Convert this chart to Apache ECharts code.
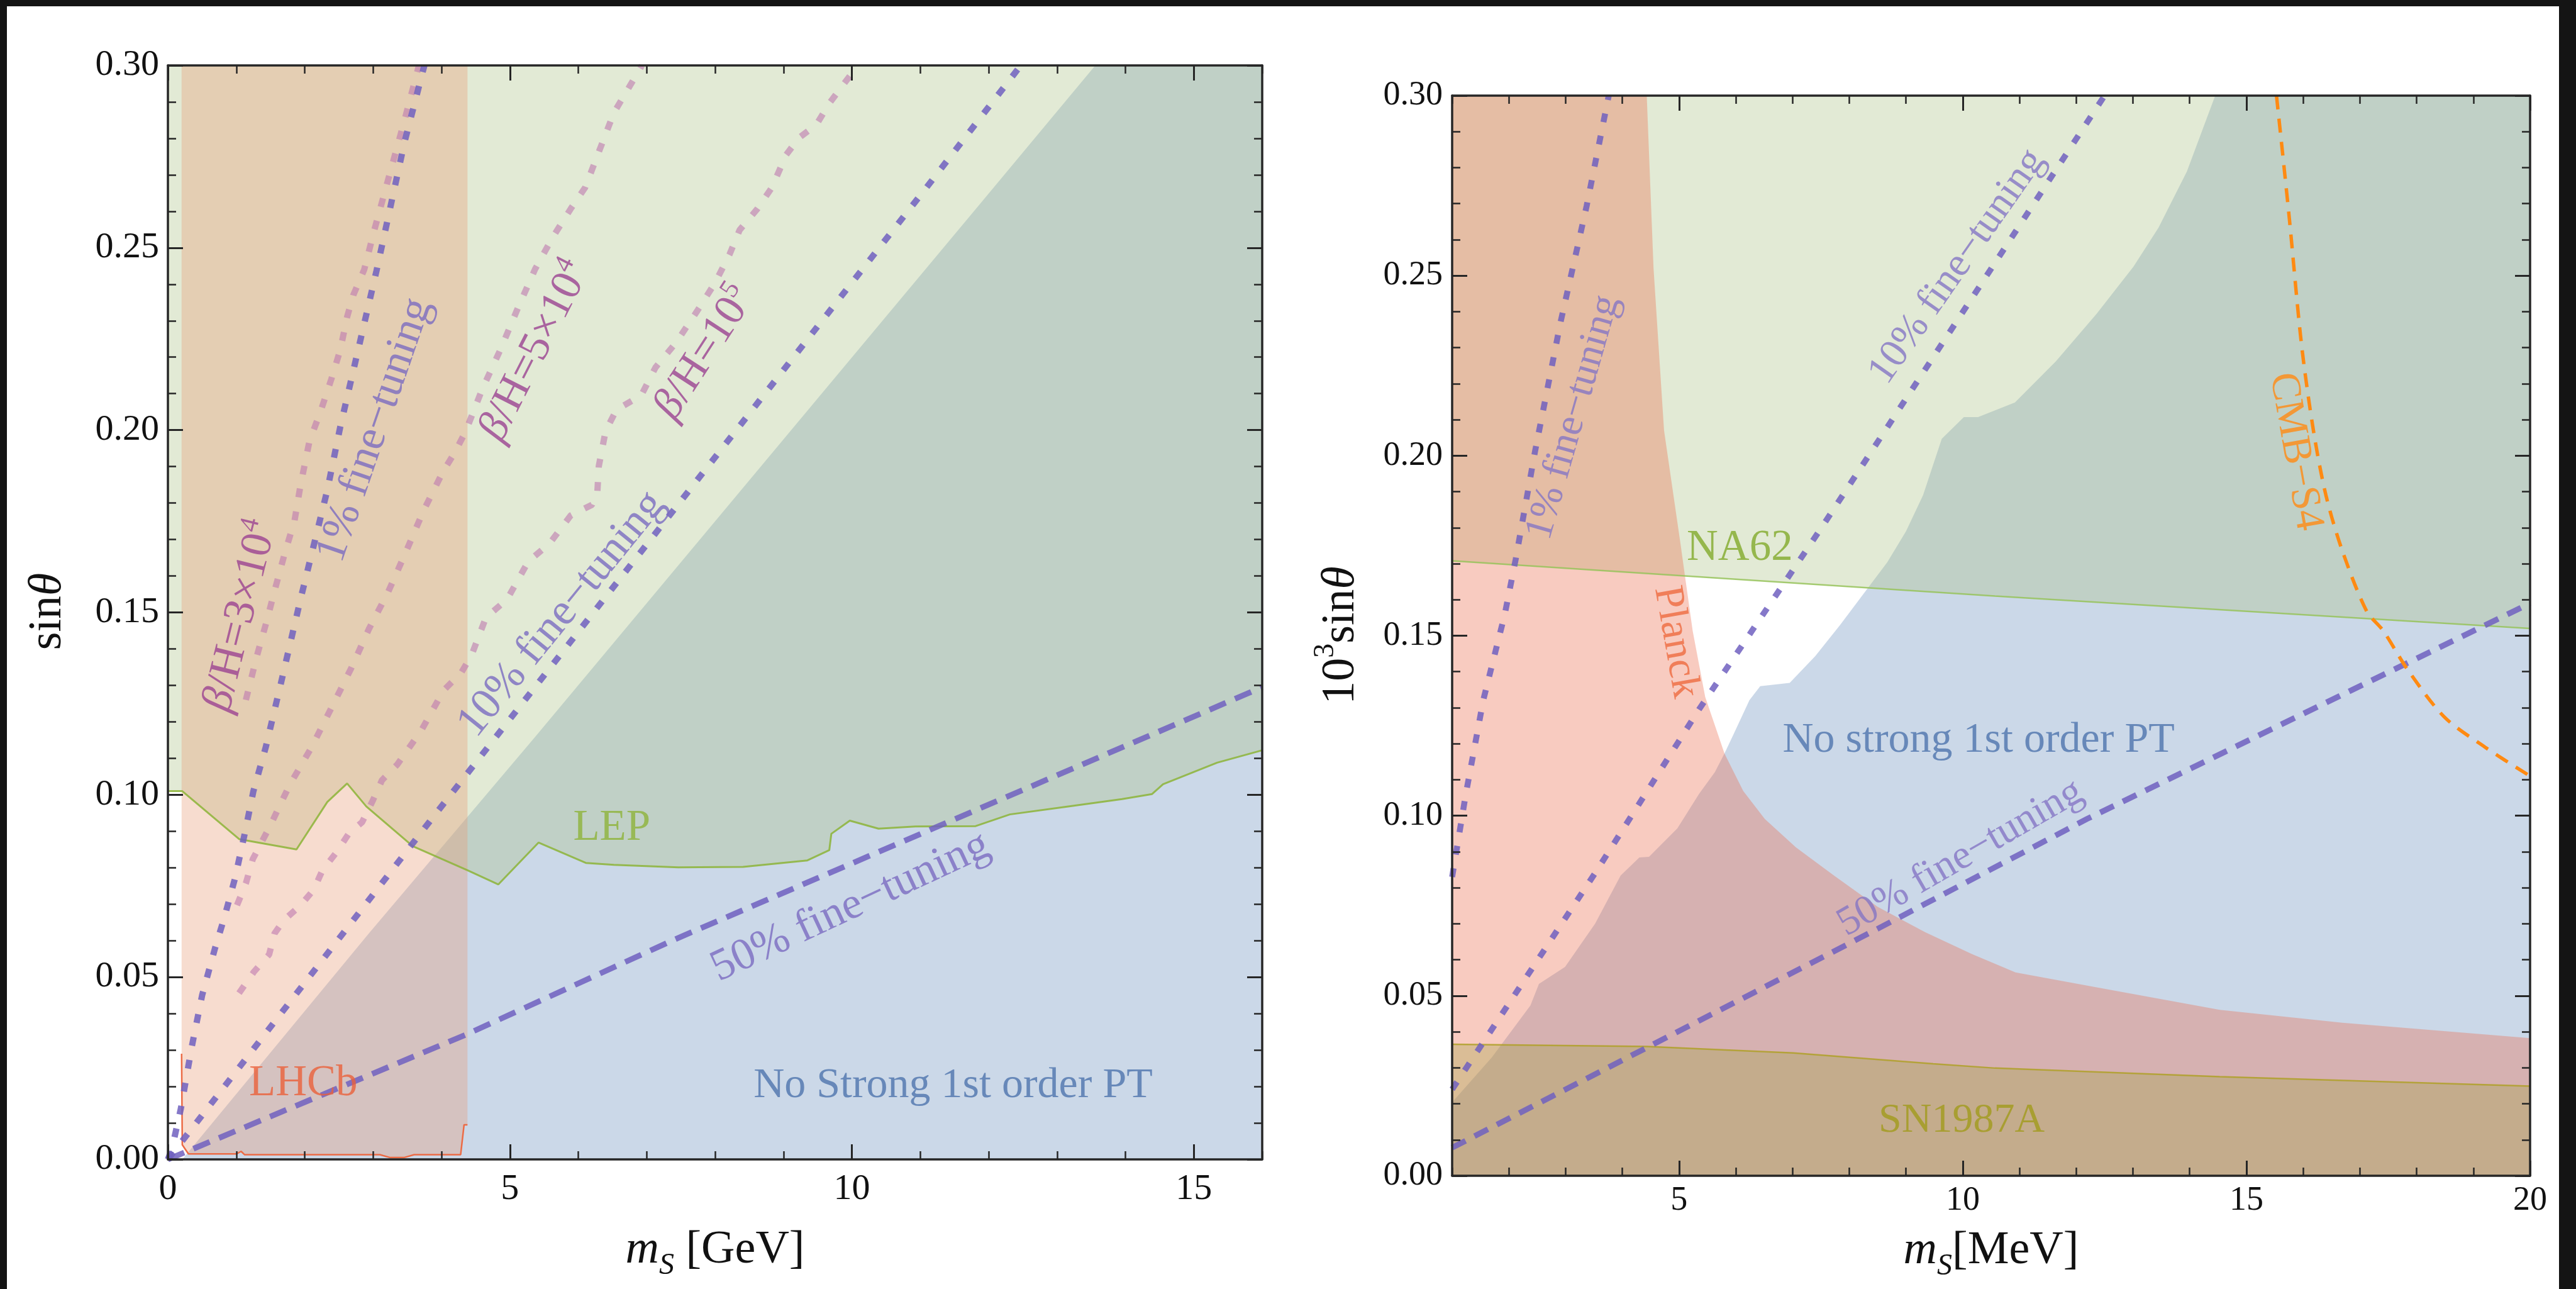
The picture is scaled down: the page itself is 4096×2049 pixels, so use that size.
<!DOCTYPE html>
<html>
<head>
<meta charset="utf-8">
<script src="https://cdn.jsdelivr.net/npm/echarts@6/dist/echarts.min.js"></script>
<style>
  html, body { margin: 0; padding: 0; background: #ffffff; }
  #chart { width: 4096px; height: 2049px; }
</style>
</head>
<body>
<div id="chart"></div>
<script>
// ===================== data: left panel (m_S in GeV, sin theta) =====================
const gevTicks = [0, 5, 10, 15];
const sinTicks = [0, 0.05, 0.10, 0.15, 0.20, 0.25, 0.30];

// LEP exclusion boundary (excluded above)
const lepBound = [[0, 0.101], [0.21, 0.101], [1.045, 0.0878], [1.88, 0.085], [2.33, 0.098], [2.62, 0.1031],
  [2.90, 0.0968], [3.58, 0.0859], [4.38, 0.0793], [4.83, 0.0754], [5.42, 0.0869], [6.11, 0.0813],
  [6.52, 0.0808], [7.46, 0.0801], [8.41, 0.0802], [9.35, 0.0820], [9.67, 0.0848], [9.70, 0.0893],
  [9.97, 0.0929], [10.39, 0.0907], [10.93, 0.0913], [11.81, 0.0914], [12.31, 0.0946], [13.13, 0.0967],
  [13.95, 0.0988], [14.39, 0.1002], [14.55, 0.1029], [15.34, 0.1088], [16, 0.1122]];

// LHCb exclusion boundary (excluded above, between 0.2 and 4.38 GeV)
const lhcbBound = [[0.2, 0.029], [0.21, 0.004], [0.3, 0.0015], [1.0, 0.0015], [1.07, 0.0022], [1.12, 0.0013],
  [3.1, 0.0013], [3.25, 0.0005], [3.45, 0.0005], [3.6, 0.0013], [4.28, 0.0013], [4.33, 0.0095], [4.38, 0.0095]];

// boundary of the region without a strong first-order transition (below / right)
const ptBoundGev = [[0.21, 0], [2.94, 0.062], [5.37, 0.1159], [11.9, 0.2626], [13.56, 0.30]];

// fine-tuning contours
const ft1Gev = [[0, 0], [0.06, 0.003], [0.19, 0.014], [0.35, 0.031], [0.50, 0.045], [0.69, 0.058], [0.82, 0.066],
  [0.98, 0.077], [1.125, 0.0895], [1.25, 0.101], [1.43, 0.113], [1.65, 0.1304], [1.95, 0.1545], [2.33, 0.1835],
  [2.52, 0.2009], [3.05, 0.2437], [3.46, 0.279], [3.75, 0.30]];
const ft10Gev = [[0, 0], [3.87, 0.0937], [11.09, 0.2665], [12.47, 0.30]];
const ft50Gev = [[0, 0], [4.38, 0.0344], [7.42, 0.0604], [16, 0.1295]];

// beta/H contours
const bh3e4 = [[1.14, 0.126], [1.30, 0.138], [1.45, 0.148], [1.56, 0.156], [1.72, 0.167], [1.85, 0.175],
  [1.94, 0.185], [2.07, 0.197], [2.23, 0.205], [2.39, 0.214], [2.52, 0.222], [2.62, 0.231], [2.71, 0.237],
  [2.87, 0.244], [3.02, 0.255], [3.21, 0.268], [3.46, 0.285], [3.67, 0.30]];
const bh5e4 = [[1.01, 0.0697], [1.14, 0.0757], [1.24, 0.0823], [1.49, 0.0913], [1.78, 0.1027], [2.10, 0.113],
  [2.39, 0.1238], [2.68, 0.1347], [2.94, 0.1455], [3.22, 0.1556], [3.48, 0.1666], [3.74, 0.178], [4.03, 0.1889],
  [4.19, 0.1937], [4.35, 0.1995], [4.60, 0.2114], [4.86, 0.222], [5.12, 0.2336], [5.37, 0.2442], [5.63, 0.253],
  [5.89, 0.2607], [6.10, 0.2665], [6.52, 0.287], [6.90, 0.299], [6.93, 0.30]];
const bh1e5 = [[1.04, 0.0456], [1.26, 0.0515], [1.48, 0.0562], [1.56, 0.062], [1.69, 0.0655], [1.94, 0.0697],
  [2.13, 0.0739], [2.26, 0.0793], [2.46, 0.0841], [2.65, 0.0895], [2.84, 0.0925], [3.0, 0.0986], [3.13, 0.104],
  [3.35, 0.1082], [3.71, 0.1178], [4.03, 0.1286], [4.29, 0.1335], [4.44, 0.1383], [4.65, 0.1486], [4.96, 0.1536],
  [5.27, 0.164], [5.58, 0.1689], [5.89, 0.1766], [6.20, 0.1795], [6.28, 0.1833], [6.30, 0.1901], [6.40, 0.1998],
  [6.56, 0.2056], [6.92, 0.2095], [7.13, 0.2172], [7.43, 0.2240], [7.74, 0.2327], [8.0, 0.2404], [8.21, 0.2481],
  [8.36, 0.2549], [8.62, 0.2607], [8.83, 0.2665], [9.04, 0.2755], [9.23, 0.2802], [9.48, 0.2837], [9.67, 0.2896],
  [10.05, 0.2991]];

// ===================== data: right panel (m_S in MeV, 10^3 sin theta) =====================
const mevTicks = [5, 10, 15, 20];

const planckBound = [[4.43, 0.30], [4.55, 0.252], [4.735, 0.207], [5.03, 0.175], [5.10, 0.167], [5.24, 0.1513],
  [5.46, 0.133], [5.80, 0.1173], [6.13, 0.1069], [6.51, 0.0991], [7.06, 0.0912], [7.73, 0.0834], [8.50, 0.0747],
  [9.33, 0.0677], [10.16, 0.0616], [10.93, 0.0565], [12.3, 0.0525], [14.53, 0.0461], [16.69, 0.0425], [20, 0.0382]];
const na62Bound = [[1, 0.1708], [10.57, 0.161], [20, 0.152]];
const sn1987aBound = [[1, 0.0365], [4.43, 0.0359], [7.01, 0.0341], [9.48, 0.0311], [10.57, 0.0299],
  [14.53, 0.0275], [20, 0.0249]];
const ptBoundMev = [[1, 0.0204], [1.70, 0.0329], [2.38, 0.0473], [2.53, 0.0533], [2.99, 0.058], [3.52, 0.070],
  [3.97, 0.0834], [4.30, 0.0884], [4.47, 0.0886], [4.97, 0.0965], [5.35, 0.106], [5.63, 0.1121], [5.80, 0.1173],
  [5.96, 0.1226], [6.24, 0.1321], [6.43, 0.136], [6.95, 0.1369], [7.40, 0.1443], [7.84, 0.153], [8.34, 0.1635],
  [8.67, 0.1704], [9.0, 0.179], [9.3, 0.189], [9.63, 0.2047], [10.02, 0.2107], [10.27, 0.2107], [10.92, 0.2148],
  [11.64, 0.2262], [12.36, 0.2394], [13.01, 0.2525], [13.45, 0.2633], [13.95, 0.2789], [14.45, 0.30]];

const ft1Mev = [[1, 0.083], [1.24, 0.1059], [1.55, 0.1322], [1.93, 0.1561], [2.12, 0.1712], [2.46, 0.2011],
  [2.91, 0.237], [3.37, 0.2693], [3.76, 0.30]];
const ft10Mev = [[1, 0.024], [3.53, 0.0843], [5.35, 0.1295], [7.51, 0.18], [12.5, 0.30]];
const ft50Mev = [[1, 0.0078], [5.63, 0.0453], [8.50, 0.0686], [12.19, 0.0991], [20, 0.159]];
const cmbS4 = [[15.53, 0.30], [15.75, 0.2669], [15.97, 0.231], [16.18, 0.2071], [16.40, 0.1891], [16.69, 0.1736],
  [17.12, 0.1568], [17.41, 0.1514], [17.84, 0.1406], [18.49, 0.1274], [19.21, 0.119], [20, 0.111]];

// ===================== styling =====================
const FONT = 'Liberation Serif';
const AXIS_COLOR = '#262626';
const C_BLUE = 'rgba(106,144,189,0.35)';
const C_GREEN = 'rgba(172,195,135,0.35)';
const C_LHCB = 'rgba(233,155,118,0.35)';
const C_PLANCK = 'rgba(235,106,75,0.35)';
const C_SN = 'rgba(163,164,71,0.35)';
const C_FT = 'rgba(112,96,192,0.85)';
const C_BH = 'rgba(190,120,175,0.6)';
const TITLE_SIZE = 74;

function xAxesFor(grid, min, max, major, labelSize, labelMargin, name, nameGap, rich) {
  const line = { show: true, onZero: false, lineStyle: { color: AXIS_COLOR, width: 3.5 } };
  const noLine = { show: false, onZero: false };
  const base = { gridIndex: grid, type: 'value', min: min, max: max, splitLine: { show: false }, z: 15 };
  const majorTick = { show: true, inside: true, length: 24, customValues: major, lineStyle: { color: AXIS_COLOR, width: 3 } };
  const minorTick = { show: true, inside: true, length: 13, lineStyle: { color: AXIS_COLOR, width: 2.5 } };
  return [
    Object.assign({}, base, {
      position: 'bottom', axisLine: line, axisTick: majorTick,
      axisLabel: { customValues: major, fontFamily: FONT, fontSize: labelSize, color: '#111', margin: labelMargin },
      name: name, nameLocation: 'middle', nameGap: nameGap,
      nameTextStyle: { fontFamily: FONT, fontSize: TITLE_SIZE, color: '#111', lineHeight: 100, rich: rich }
    }),
    Object.assign({}, base, { position: 'bottom', interval: 1, axisLine: noLine, axisTick: minorTick, axisLabel: { show: false } }),
    Object.assign({}, base, { position: 'top', axisLine: line, axisTick: majorTick, axisLabel: { show: false } }),
    Object.assign({}, base, { position: 'top', interval: 1, axisLine: noLine, axisTick: minorTick, axisLabel: { show: false } })
  ];
}

function yAxesFor(grid, labelSize, labelMargin) {
  const line = { show: true, onZero: false, lineStyle: { color: AXIS_COLOR, width: 3.5 } };
  const noLine = { show: false, onZero: false };
  const base = { gridIndex: grid, type: 'value', min: 0, max: 0.30, splitLine: { show: false }, z: 15 };
  const majorTick = { show: true, inside: true, length: 24, customValues: sinTicks, lineStyle: { color: AXIS_COLOR, width: 3 } };
  const minorTick = { show: true, inside: true, length: 13, lineStyle: { color: AXIS_COLOR, width: 2.5 } };
  return [
    Object.assign({}, base, {
      position: 'left', axisLine: line, axisTick: majorTick,
      axisLabel: { customValues: sinTicks, fontFamily: FONT, fontSize: labelSize, color: '#111', margin: labelMargin,
        formatter: v => Number(v).toFixed(2) }
    }),
    Object.assign({}, base, { position: 'left', interval: 0.01, axisLine: noLine, axisTick: minorTick, axisLabel: { show: false } }),
    Object.assign({}, base, { position: 'right', axisLine: line, axisTick: majorTick, axisLabel: { show: false } }),
    Object.assign({}, base, { position: 'right', interval: 0.01, axisLine: noLine, axisTick: minorTick, axisLabel: { show: false } })
  ];
}

// filled exclusion region drawn as one polygon in data coordinates
function region(grid, pts, fill, z) {
  return {
    type: 'custom', xAxisIndex: grid * 4, yAxisIndex: grid * 4, data: pts, z: z, silent: true, clip: true,
    renderItem: function (params, api) {
      if (params.dataIndex !== 0) return null;
      return { type: 'polygon', shape: { points: pts.map(p => api.coord(p)) }, style: { fill: fill } };
    }
  };
}

function curve(grid, pts, color, width, dash, z, smooth) {
  return {
    type: 'line', xAxisIndex: grid * 4, yAxisIndex: grid * 4, data: pts, symbol: 'none', silent: true,
    smooth: smooth || false, z: z, clip: true,
    lineStyle: { color: color, width: width, type: dash || 'solid', cap: 'butt' }
  };
}

const richBase = (color, size) => ({
  it: { fontFamily: FONT, fontStyle: 'italic', fontSize: size, color: color, lineHeight: size * 1.2 },
  sup: { fontFamily: FONT, fontSize: Math.round(size * 0.62), color: color, lineHeight: Math.round(size * 0.62), verticalAlign: 'top' }
});

function note(grid, x, y, text, color, size, rotate) {
  return {
    type: 'scatter', xAxisIndex: grid * 4, yAxisIndex: grid * 4, data: [[x, y]], symbol: 'circle', symbolSize: 1,
    itemStyle: { color: 'rgba(0,0,0,0)' }, silent: true, z: 20,
    label: { show: true, position: 'inside', formatter: text, color: color, fontFamily: FONT, fontSize: size,
      lineHeight: size * 1.2, rotate: rotate || 0, rich: richBase(color, size) }
  };
}

// axis-title fragments: roman, italic, subscript, superscript
const titleRich = {
  roman: { fontFamily: FONT, fontSize: TITLE_SIZE, color: '#111', lineHeight: 96 },
  ital: { fontFamily: FONT, fontStyle: 'italic', fontSize: TITLE_SIZE, color: '#111', lineHeight: 96 },
  subs: { fontFamily: FONT, fontStyle: 'italic', fontSize: 48, color: '#111', lineHeight: 44, verticalAlign: 'bottom' },
  supr: { fontFamily: FONT, fontSize: 46, color: '#111', lineHeight: 46, verticalAlign: 'top' }
};

// vertical axis titles, reading bottom to top
function yTitle(cx, cy, text) {
  return {
    type: 'text', x: cx, y: cy, rotation: Math.PI / 2, z: 50,
    style: { text: text, rich: titleRich, fontFamily: FONT, fontSize: TITLE_SIZE, fill: '#111',
      align: 'center', verticalAlign: 'middle' }
  };
}

const C_FT_TXT = '#7b6cc0';
const C_BH_TXT = '#9b4291';

const option = {
  animation: false,
  backgroundColor: '#ffffff',
  grid: [
    { left: 267, top: 104, width: 1740, height: 1739 },
    { left: 2309, top: 152, width: 1714, height: 1717 }
  ],
  xAxis: [].concat(
    xAxesFor(0, 0, 16, gevTicks, 58, 19, '{ital|m}{subs|S}{roman| [GeV]}', 97, titleRich),
    xAxesFor(1, 1, 20, mevTicks, 54, 13, '{ital|m}{subs|S}{roman|[MeV]}', 70, titleRich)
  ),
  yAxis: [].concat(yAxesFor(0, 58, 14), yAxesFor(1, 54, 15)),
  graphic: [
    yTitle(77, 972, '{roman|sin}{ital|θ}'),
    yTitle(2133, 1010, '{roman|10}{supr|3}{roman|sin}{ital|θ}'),
    { type: 'rect', shape: { x: 0, y: 0, width: 4096, height: 10 }, style: { fill: '#141414' }, z: 100 },
    { type: 'rect', shape: { x: 0, y: 0, width: 11, height: 2049 }, style: { fill: '#141414' }, z: 100 },
    { type: 'rect', shape: { x: 4069, y: 0, width: 27, height: 2049 }, style: { fill: '#141414' }, z: 100 }
  ],
  series: [
    // ---- left panel ----
    region(0, ptBoundGev.concat([[16, 0.30], [16, 0]]), C_BLUE, 1),
    region(0, [[0, 0.30]].concat(lepBound, [[16, 0.30]]), C_GREEN, 2),
    region(0, [[0.2, 0.30]].concat(lhcbBound, [[4.38, 0.30]]), C_LHCB, 3),
    curve(0, lepBound, 'rgba(140,180,55,0.85)', 3, 'solid', 5),
    curve(0, lhcbBound, '#ec6b45', 2.5, 'solid', 5),
    curve(0, bh3e4, C_BH, 10, [14, 23], 6),
    curve(0, bh5e4, C_BH, 10, [14, 23], 6),
    curve(0, bh1e5, C_BH, 10, [14, 23], 6),
    curve(0, ft1Gev, C_FT, 10, [14, 23], 7),
    curve(0, ft10Gev, C_FT, 10, [14, 23], 7),
    curve(0, ft50Gev, C_FT, 9, [28, 16], 7),
    note(0, 1.07, 0.149, '{it|β}/H=3×10{sup|4}', C_BH_TXT, 70, 76),
    note(0, 3.03, 0.200, '1% fine−tuning', C_FT_TXT, 70, 71),
    note(0, 5.37, 0.2216, '{it|β}/H=5×10{sup|4}', C_BH_TXT, 70, 63),
    note(0, 7.85, 0.2211, '{it|β}/H=10{sup|5}', C_BH_TXT, 70, 57),
    note(0, 5.76, 0.1495, '10% fine−tuning', C_FT_TXT, 71, 51),
    note(0, 9.98, 0.0692, '50% fine−tuning', C_FT_TXT, 71, 25),
    note(0, 6.49, 0.0907, 'LEP', '#8db33a', 69, 0),
    note(0, 1.98, 0.0208, 'LHCb', '#ea603a', 69, 0),
    note(0, 11.48, 0.0202, 'No Strong 1st order PT', '#4d74ad', 68, 0),

    // ---- right panel ----
    region(1, [[1, 0]].concat(ptBoundMev, [[20, 0.30], [20, 0]]), C_BLUE, 1),
    region(1, [[1, 0.30]].concat(na62Bound, [[20, 0.30]]), C_GREEN, 2),
    region(1, [[1, 0.30]].concat(planckBound, [[20, 0], [1, 0]]), C_PLANCK, 3),
    region(1, [[1, 0]].concat(sn1987aBound, [[20, 0]]), C_SN, 4),
    curve(1, na62Bound, 'rgba(150,195,90,0.85)', 2.5, 'solid', 5),
    curve(1, sn1987aBound, 'rgba(175,160,40,0.85)', 2.5, 'solid', 5),
    curve(1, ft1Mev, C_FT, 9.5, [14, 22], 7),
    curve(1, ft10Mev, C_FT, 9.5, [14, 22], 7),
    curve(1, ft50Mev, C_FT, 9, [24, 16], 7),
    curve(1, cmbS4, '#ff8a12', 5.5, [22, 15], 7, 0.3),
    note(1, 3.14, 0.2106, '1% fine−tuning', '#8576c4', 64, 74),
    note(1, 9.905, 0.2525, '10% fine−tuning', '#8576c4', 65, 55),
    note(1, 9.96, 0.0882, '50% fine−tuning', '#8576c4', 65, 30),
    note(1, 6.07, 0.1743, 'NA62', '#82aa2a', 69, 0),
    note(1, 4.94, 0.1482, 'Planck', '#ee6a3e', 66, -80),
    note(1, 10.28, 0.1208, 'No strong 1st order PT', '#4d74ad', 68, 0),
    note(1, 9.98, 0.0153, 'SN1987A', '#a19b1c', 66, 0),
    note(1, 15.86, 0.2011, 'CMB−S4', '#ff8a12', 66, -80)
  ]
};

const chart = echarts.init(document.getElementById('chart'), null, { renderer: 'canvas', width: 4096, height: 2049 });
chart.setOption(option);
</script>
</body>
</html>
